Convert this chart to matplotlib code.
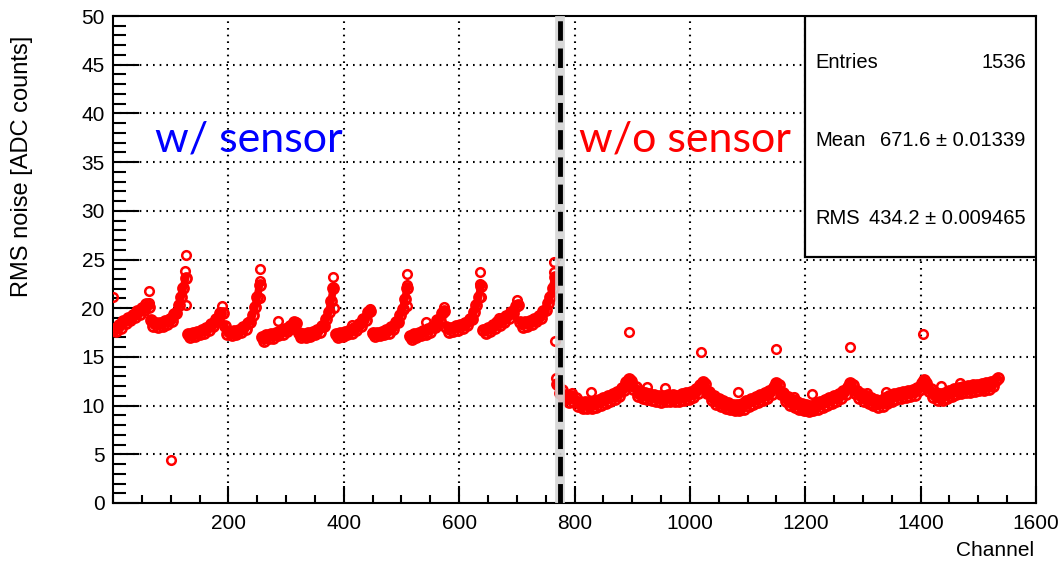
import numpy as np
import matplotlib
matplotlib.use('Agg')
import matplotlib.pyplot as plt
import matplotlib.ticker as mticker
from matplotlib.patches import Rectangle

plt.rcParams['font.family'] = ['Liberation Sans', 'DejaVu Sans']

# ---- data: RMS noise per channel, read every 4 channels (64-channel blocks) ----
seg_offsets = np.arange(2, 64, 4)

left_blocks = [
    [17.9, 17.7, 18.3, 18.0, 18.7, 18.5, 19.0, 18.8, 19.3, 19.1, 19.7, 19.4, 20.0, 19.8, 20.4, 20.1],
    [18.8, 18.2, 18.5, 18.1, 18.5, 18.2, 18.7, 18.4, 18.9, 18.7, 19.4, 19.5, 20.3, 21.1, 22.1, 23.1],
    [17.4, 17.0, 17.5, 17.1, 17.6, 17.3, 17.8, 17.5, 18.0, 17.8, 18.4, 18.2, 18.9, 18.8, 19.5, 19.5],
    [18.2, 17.4, 17.6, 17.2, 17.7, 17.3, 17.8, 17.6, 18.1, 17.9, 18.5, 18.6, 19.3, 20.1, 21.1, 22.4],
    [17.0, 16.6, 17.2, 16.9, 17.3, 16.9, 17.5, 17.2, 17.7, 17.4, 17.9, 17.7, 18.2, 18.0, 18.6, 18.5],
    [17.5, 17.0, 17.4, 17.0, 17.5, 17.1, 17.6, 17.3, 17.8, 17.6, 18.2, 18.2, 18.9, 19.6, 20.7, 22.1],
    [17.4, 17.0, 17.5, 17.1, 17.6, 17.3, 17.8, 17.5, 18.0, 17.8, 18.4, 18.2, 18.9, 18.8, 19.6, 19.7],
    [17.5, 17.1, 17.5, 17.2, 17.6, 17.3, 17.8, 17.5, 18.1, 17.9, 18.6, 18.6, 19.3, 19.9, 20.9, 22.1],
    [17.1, 16.8, 17.3, 17.0, 17.5, 17.2, 17.7, 17.4, 17.9, 17.6, 18.2, 18.1, 18.8, 18.7, 19.5, 19.7],
    [18.1, 17.6, 18.0, 17.7, 18.2, 17.8, 18.3, 18.0, 18.5, 18.3, 18.9, 18.9, 19.6, 20.3, 21.2, 22.3],
    [17.8, 17.5, 18.0, 17.7, 18.3, 18.0, 18.6, 18.3, 18.9, 18.6, 19.2, 19.0, 19.6, 19.5, 20.2, 20.3],
    [18.6, 18.1, 18.6, 18.2, 18.7, 18.4, 18.9, 18.7, 19.2, 19.0, 19.7, 19.8, 20.5, 21.2, 22.1, 23.2],
]

right_blocks = [
    [12.2, 11.3, 11.6, 10.7, 11.0, 10.4, 11.0, 10.5, 10.8, 10.0, 10.4, 9.8, 10.4, 9.8, 10.4, 9.8],
    [10.4, 9.9, 10.6, 10.1, 10.8, 10.3, 11.0, 10.5, 11.2, 10.7, 11.4, 11.0, 11.8, 11.6, 12.4, 12.7],
    [12.5, 11.7, 11.9, 11.0, 11.5, 10.8, 11.3, 10.7, 11.2, 10.6, 11.1, 10.5, 11.0, 10.4, 11.0, 10.5],
    [11.1, 10.5, 11.1, 10.5, 11.0, 10.5, 11.2, 10.6, 11.3, 10.7, 11.4, 10.9, 11.7, 11.3, 12.1, 12.4],
    [12.2, 11.3, 11.4, 10.6, 11.0, 10.2, 10.7, 10.0, 10.5, 9.8, 10.3, 9.6, 10.1, 9.5, 10.1, 9.5],
    [10.2, 9.7, 10.5, 10.0, 10.7, 10.2, 10.9, 10.4, 11.1, 10.6, 11.3, 10.8, 11.5, 11.2, 11.9, 12.3],
    [12.1, 11.2, 11.3, 10.5, 10.9, 10.1, 10.6, 9.9, 10.4, 9.7, 10.2, 9.5, 10.1, 9.4, 10.0, 9.5],
    [10.2, 9.7, 10.4, 9.9, 10.6, 10.1, 10.8, 10.3, 11.0, 10.5, 11.2, 10.8, 11.5, 11.2, 11.9, 12.3],
    [12.1, 11.3, 11.5, 10.8, 11.2, 10.5, 11.0, 10.3, 10.8, 10.1, 10.6, 9.9, 10.5, 10.0, 10.8, 10.3],
    [11.0, 10.5, 11.2, 10.7, 11.3, 10.8, 11.4, 10.9, 11.5, 11.0, 11.6, 11.1, 11.8, 11.6, 12.3, 12.6],
    [12.3, 11.5, 11.7, 10.9, 11.3, 10.6, 11.2, 10.6, 11.3, 10.8, 11.5, 11.0, 11.7, 11.2, 11.8, 11.3],
    [11.9, 11.4, 12.0, 11.4, 12.1, 11.5, 12.1, 11.6, 12.2, 11.6, 12.3, 11.7, 12.4, 12.0, 12.6, 12.8],
]

# single noisy channels
outlier_ch = [0, 62, 62, 100, 127, 125, 127, 189, 254, 254, 255, 286, 317,
              382, 382, 383, 414, 445, 509, 509, 510, 542, 574, 637, 637, 638,
              669, 701, 764, 764, 766, 768,
              795, 828, 894, 925, 957, 1020, 1084, 1149, 1181, 1212, 1278,
              1307, 1340, 1404, 1436, 1468]
outlier_val = [21.2, 21.8, 20.5, 4.4, 25.5, 23.8, 20.3, 20.2, 24.0, 22.8, 21.0, 18.7, 18.5,
               23.2, 22.0, 20.0, 18.3, 19.9, 23.5, 22.4, 20.2, 18.6, 20.1, 23.7, 22.5, 21.1,
               19.0, 20.8, 24.7, 23.7, 16.6, 12.8,
               11.3, 11.4, 17.6, 11.9, 11.8, 15.5, 11.4, 15.8, 10.9, 11.2, 16.0,
               11.3, 11.4, 17.4, 12.0, 12.3]

stats_labels = ['Entries', 'Mean', 'RMS']
stats_values = ['1536', '671.6 \u00b1 0.01339', '434.2 \u00b1 0.009465']
boundary_ch = 775

fig = plt.figure(figsize=(10.58, 5.63), dpi=100)
ax = fig.add_axes([113 / 1058, 60 / 563, 923 / 1058, 487 / 563])

grid_style = dict(color='black', lw=1.5, linestyle=(0, (0.8, 2.4)), zorder=1)
for yv in range(5, 50, 5):
    ax.axhline(yv, **grid_style)
for xv in range(200, 1600, 200):
    ax.axvline(xv, **grid_style)

# dense channel band: markers plus a filler stroke so the overlapping circles read as one band
mk = dict(mfc='none', mec='#ff0000', ms=6.2, mew=1.8, zorder=3)
for i, block in enumerate(left_blocks + right_blocks):
    ch = i * 64 + seg_offsets
    ax.plot(ch, block, '-', color='#ff0000', lw=5.5, solid_joinstyle='round', zorder=3)
    ax.plot(ch, block, 'o', mfc='none', mec='#ff0000', ms=7.2, mew=2.0, zorder=3)
ax.plot(outlier_ch, outlier_val, 'o', **mk)

# boundary between sensor / no sensor
ax.axvline(boundary_ch, color='#d4d4d4', lw=7, alpha=0.9, zorder=4)
ax.axvline(boundary_ch, color='black', lw=3.5, linestyle=(0, (4, 1.6)), zorder=4)

ax.text(73, 37.3, 'w/ sensor', color='#0000ff', fontsize=31, family=['Lato', 'DejaVu Sans'],
        va='center', ha='left', zorder=6)
ax.text(808, 37.3, 'w/o sensor', color='#ff0000', fontsize=31, family=['Lato', 'DejaVu Sans'],
        va='center', ha='left', zorder=6)

ax.set_xlim(0, 1600)
ax.set_ylim(0, 50)
ax.xaxis.set_major_locator(mticker.FixedLocator(range(200, 1601, 200)))
ax.xaxis.set_minor_locator(mticker.MultipleLocator(50))
ax.yaxis.set_major_locator(mticker.MultipleLocator(5))
ax.yaxis.set_minor_locator(mticker.MultipleLocator(1))
ax.tick_params(which='both', direction='in', top=False, right=False, width=1.5, labelsize=15)
ax.tick_params(axis='y', which='major', length=19, pad=6)
ax.tick_params(axis='y', which='minor', length=9.5)
ax.tick_params(axis='x', which='major', length=12, pad=8)
ax.tick_params(axis='x', which='minor', length=6)
for s in ax.spines.values():
    s.set_linewidth(1.5)

# stats box
ax.add_patch(Rectangle((0.75, 0.505), 0.25, 0.495, transform=ax.transAxes,
                       facecolor='white', edgecolor='black', lw=1.6, zorder=7))
for k, (lab, val) in enumerate(zip(stats_labels, stats_values)):
    yy = 0.905 - k * 0.16
    ax.text(0.761, yy, lab, transform=ax.transAxes, fontsize=14.5, va='center', ha='left', zorder=8)
    ax.text(0.989, yy, val, transform=ax.transAxes, fontsize=14.5, va='center', ha='right', zorder=8)

fig.text(22 / 1058, 1 - 166 / 563, 'RMS noise [ADC counts]', rotation=90, fontsize=17,
         ha='center', va='center')
fig.text(1034 / 1058, 1 - 550 / 563, 'Channel', fontsize=15, ha='right', va='center')

fig.savefig('out.png', dpi=100)
